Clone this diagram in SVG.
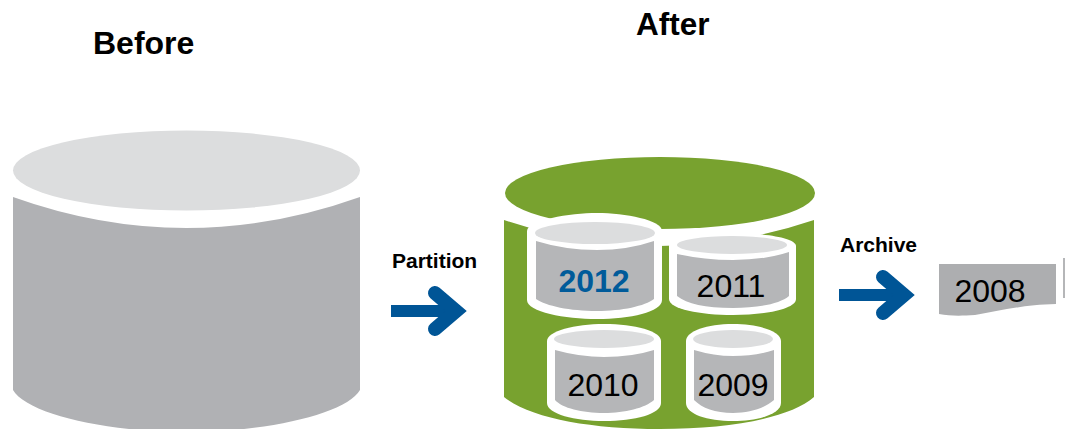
<svg xmlns="http://www.w3.org/2000/svg" width="1067" height="429" viewBox="0 0 1067 429">
<style>
text{font-family:"Liberation Sans",Arial,sans-serif}
.h{font-size:32px;font-weight:bold;fill:#000}
.l{font-size:21px;font-weight:bold;fill:#000}
.y{font-size:32px;fill:#000}
.w{fill:#fff}
.g{fill:#b5b6b8}
.t{fill:#dcddde}
.arr{fill:none;stroke:#005596;stroke-width:12}
.head{fill:none;stroke:#005596;stroke-width:14;stroke-linecap:round}
</style>
<rect width="1067" height="429" fill="#fff"/>
<text class="h" x="93" y="54">Before</text>
<text class="h" x="636" y="35" style="font-size:31.5px">After</text>
<g id="before">
<path d="M13 197Q186.500 259 360 197V390C347 413 270 432 186.500 432C103 432 26 413 13 390Z" fill="#b0b1b4"/>
<ellipse class="t" cx="186.500" cy="170.500" rx="173.500" ry="40"/>
</g>
<g id="after">
<path d="M504 220Q660 272 814 220V397C790 418 730 429 660 429C590 429 530 418 504 397Z" fill="#78a22f"/>
<ellipse cx="660" cy="193" rx="155" ry="36" fill="#78a22f"/>
</g>
<g id="c2012">
<path class="w" d="M527 231C527 220 570 213 597 213C625 213 662 220 662 231V300C662 312 630 319 597 319C565 319 527 312 527 300Z"/>
<path class="g" d="M536 241Q565 250 597 250Q628 250 654 241V299C645 306 622 311 597 311C570 311 546 306 536 299Z"/>
<ellipse class="t" cx="595" cy="233" rx="60" ry="11"/>
<text x="594" y="292" text-anchor="middle" font-size="32" font-weight="bold" fill="#005b9a">2012</text>
</g>
<g id="c2011">
<path class="w" d="M669 246C669 238 700 233 733 233C765 233 796 238 796 246V299C796 309 765 315 733 315C700 315 669 309 669 299Z"/>
<path class="g" d="M677 254Q705 260 733 260Q765 260 789 252V296C780 304 757 308 733 308C705 308 687 304 677 296Z"/>
<ellipse class="t" cx="732" cy="245" rx="55" ry="9"/>
<text class="y" x="731" y="297" text-anchor="middle">2011</text>
</g>
<g id="c2010">
<path class="w" d="M547 341C547 331 575 324 604 324C635 324 661 331 661 341V403C661 414 635 421 604 421C575 421 547 414 547 403Z"/>
<path class="g" d="M555 350Q580 357 604 357Q632 357 654 350V400C645 408 625 413 604 413C582 413 562 408 555 400Z"/>
<ellipse class="t" cx="604" cy="339" rx="50" ry="9"/>
<text class="y" x="603" y="396" text-anchor="middle">2010</text>
</g>
<g id="c2009">
<path class="w" d="M686 341C686 331 707 324 733 324C758 324 781 331 781 341V403C781 414 758 421 733 421C707 421 686 414 686 403Z"/>
<path class="g" d="M694 350Q714 356 733 356Q755 356 774 350V400C765 408 750 413 733 413C715 413 702 408 694 400Z"/>
<ellipse class="t" cx="733" cy="339" rx="40" ry="9"/>
<text class="y" x="733" y="396" text-anchor="middle">2009</text>
</g>
<g id="c2008">
<path d="M939 264H1056V304C1020 305 1000 311 975 315C960 316 950 316 939 314Z" fill="#adaeb0"/>
<rect x="1063" y="258" width="2" height="40" fill="#b5b6b8"/>
<text class="y" x="990" y="302" text-anchor="middle">2008</text>
</g>
<g id="connectors">
<text class="l" x="392" y="268">Partition</text>
<path class="arr" d="M391 311H452"/>
<path class="head" d="M435 293L456 311L435 329"/>
<text class="l" x="840" y="252">Archive</text>
<path class="arr" d="M839 295H900"/>
<path class="head" d="M883 277L904 295L883 313"/>
</g>
</svg>
